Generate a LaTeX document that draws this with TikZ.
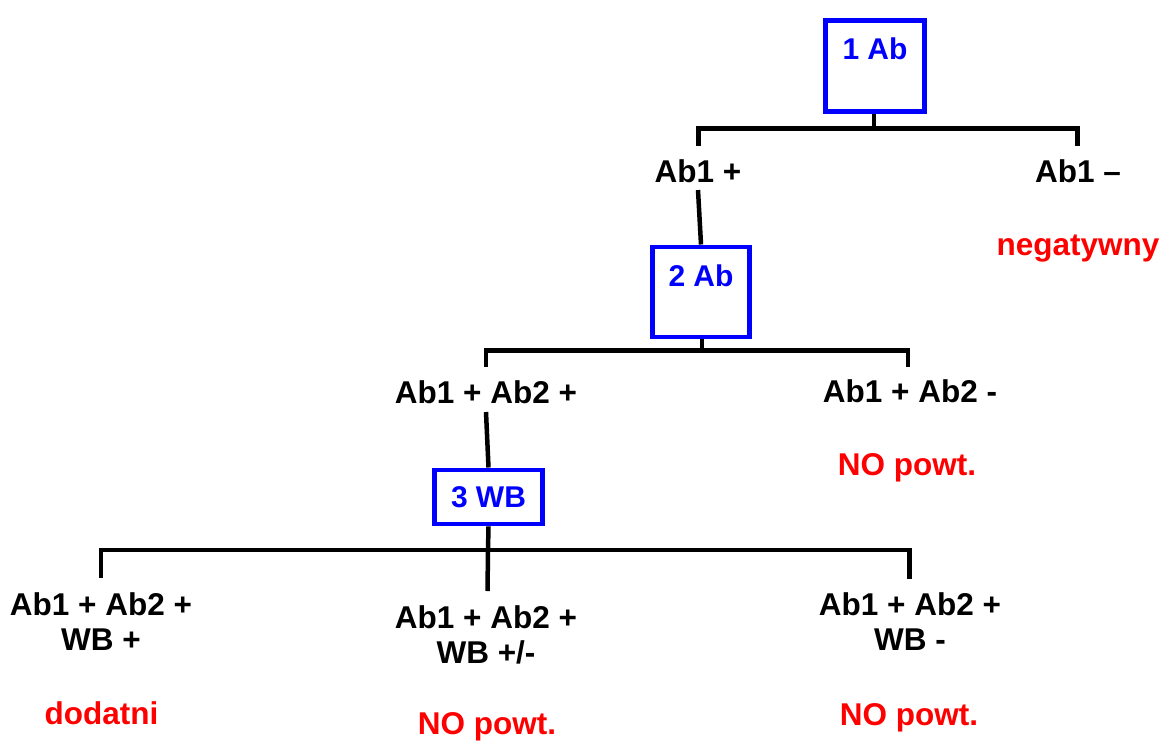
\documentclass[tikz,border=0pt]{standalone}
\usepackage{fontspec}
\setmainfont{Liberation Sans}
\definecolor{boxblue}{RGB}{0,0,255}
\definecolor{txtred}{RGB}{255,0,0}
\begin{document}
\begin{tikzpicture}[x=1pt,y=-1pt,
  conn/.style={line width=4.5pt, black},
  bluebox/.style={draw=boxblue, line width=4.8pt, inner sep=0pt, text=boxblue,
    font=\fontsize{30}{34}\selectfont\bfseries, align=center, anchor=north},
  lbl/.style={inner sep=0pt, anchor=base, align=center,
    font=\fontsize{31.5}{35}\selectfont\bfseries},
  redlbl/.style={lbl, text=txtred}]
\useasboundingbox (0,0) rectangle (1167,740);

% boxes
\node[bluebox, minimum width=99pt, text height=39.5pt, text depth=51.5pt] (b1) at (875,18) {1 Ab};
\node[bluebox, minimum width=97pt, text height=39.5pt, text depth=50.5pt] (b2) at (701,244.5) {2 Ab};
\node[bluebox, minimum width=108pt, text height=37.5pt, text depth=16.5pt] (b3) at (488.5,467.5) {3 WB};

% labels
\node[lbl] (n1p) at (698,182) {Ab1 +};
\node[lbl] (n1m) at (1078,182) {Ab1 --};
\node[redlbl] (neg) at (1078,255) {negatywny};
\node[lbl] (n2p) at (486,403) {Ab1 + Ab2 +};
\node[lbl] (n2m) at (910,402) {Ab1 + Ab2 -};
\node[redlbl] (nop1) at (907,475) {NO powt.};
\node[lbl] (n3a) at (101,650) {Ab1 + Ab2 +\\WB +};
\node[lbl] (n3b) at (486,663) {Ab1 + Ab2 +\\WB +/-};
\node[lbl] (n3c) at (910,650) {Ab1 + Ab2 +\\WB -};
\node[redlbl] (dod) at (101.5,724) {dodatni};
\node[redlbl] (nop2) at (487,734) {NO powt.};
\node[redlbl] (nop3) at (909,725) {NO powt.};

% junction coordinates
\coordinate (j1) at (874,128.5);
\coordinate (l1) at (698.7,128.5);
\coordinate (r1) at (1077.7,128.5);
\coordinate (l1e) at (698.7,146);
\coordinate (r1e) at (1077.7,146);

\coordinate (j2) at (702,350.5);
\coordinate (l2) at (486,350.5);
\coordinate (r2) at (908,350.5);
\coordinate (l2e) at (486,367);
\coordinate (r2e) at (908,367);

\coordinate (j3) at (488,550);
\coordinate (l3) at (101,550);
\coordinate (r3) at (909.5,550);
\coordinate (l3e) at (101,578);
\coordinate (r3e) at (909.5,579);
\coordinate (m3e) at (487.5,591);

% connectors level 1
\draw[conn] (b1.south -| j1) -- (j1);
\draw[conn] (l1e) -- (l1) -- (r1) -- (r1e);
\draw[conn] ([yshift=-7.5pt]n1p.south) -- (b2.north);

% level 2
\draw[conn] (b2.south -| j2) -- (j2);
\draw[conn] (l2e) -- (l2) -- (r2) -- (r2e);
\draw[conn] ([yshift=-8.5pt]n2p.south) -- (b3.north);

% level 3
\draw[conn] (b3.south) -- (j3) -- (m3e);
\draw[conn] (l3e) -- (l3) -- (r3) -- (r3e);
\end{tikzpicture}
\end{document}
